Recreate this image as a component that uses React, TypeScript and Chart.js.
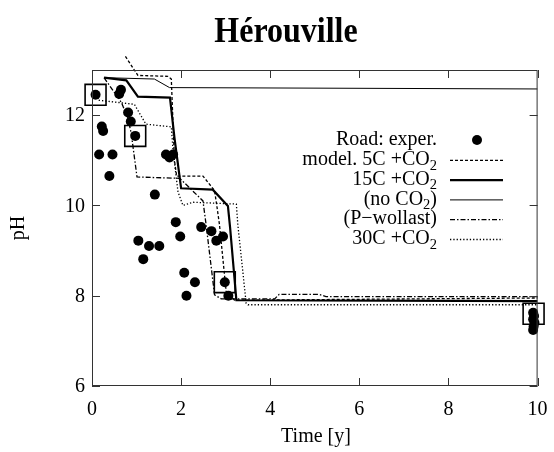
import React, { useEffect, useRef } from "react";
import { Chart, registerables } from "chart.js";

Chart.register(...registerables);

const TITLE = "Hérouville";
const X_LABEL = "Time [y]";
const Y_LABEL = "pH";
const X_TICKS = [0, 2, 4, 6, 8, 10];
const Y_TICKS = [6, 8, 10, 12];

// experimental points
const expTime = [0.08, 0.22, 0.25, 0.16, 0.39, 0.46, 0.61, 0.65, 0.81, 0.87, 0.97, 1.04, 1.15, 1.28, 1.41, 1.51, 1.66, 1.74, 1.82, 1.88, 1.98, 2.07, 2.12, 2.31, 2.45, 2.68, 2.79, 2.94, 2.98, 3.06, 9.9, 9.92, 9.9, 9.93, 9.91, 9.9];
const expPH = [12.45, 11.75, 11.65, 11.13, 10.65, 11.13, 12.47, 12.56, 12.06, 11.86, 11.54, 9.22, 8.81, 9.1, 10.24, 9.1, 11.13, 11.06, 11.13, 9.63, 9.31, 8.51, 8.0, 8.3, 9.52, 9.43, 9.22, 9.31, 8.3, 8.0, 7.62, 7.55, 7.48, 7.4, 7.32, 7.24];

// highlighted samples (open squares)
const boxTime = [0.08, 0.97, 2.98, 9.91];
const boxPH = [12.45, 11.54, 8.3, 7.6];

// model 5C +CO2 (dashed)
const m5Time = [0.75, 1.03, 1.7, 1.78, 1.85, 1.9, 2.49, 2.75, 2.8, 2.86, 3.01, 3.2, 10];
const m5PH = [13.3, 12.88, 12.86, 12.8, 11.0, 10.65, 10.65, 10.33, 10.0, 9.58, 8.1, 7.9, 7.95];

// 15C +CO2 (thick solid)
const m15Time = [0.27, 0.77, 1.03, 1.75, 1.85, 2.0, 2.71, 3.05, 3.1, 3.24, 10];
const m15PH = [12.83, 12.77, 12.41, 12.39, 11.5, 10.38, 10.35, 9.99, 9.5, 7.9, 7.88];

// no CO2 (thin solid)
const noCO2Time = [0.27, 1.4, 1.74, 10];
const noCO2PH = [12.83, 12.8, 12.61, 12.58];

// P-wollast (dash-dot)
const pwTime = [0.27, 0.66, 0.8, 0.88, 1.01, 1.97, 2.49, 2.56, 2.75, 2.9, 4.1, 4.2, 5.1, 5.25, 10];
const pwPH = [12.83, 12.28, 11.95, 11.6, 10.63, 10.6, 10.1, 9.58, 8.02, 7.93, 7.93, 8.03, 8.03, 7.98, 7.98];

// 30C +CO2 (dotted)
const m30Time = [0.15, 0.95, 1.21, 1.78, 1.82, 1.93, 2.04, 2.27, 3.24, 3.27, 3.46, 3.5, 10];
const m30PH = [12.33, 12.24, 11.8, 11.74, 11.2, 10.3, 10.0, 10.07, 10.03, 9.6, 7.83, 7.8, 7.8];

const SERIF = "'Liberation Serif', 'Times New Roman', serif";

const toXY = (xs: number[], ys: number[]) => xs.map((x, i) => ({ x, y: ys[i] }));

type Seg = { t: string; sub?: boolean };
const LEGEND_ITEMS: { segs: Seg[]; kind: string; width: number; dash: number[] }[] = [
  { segs: [{ t: "Road: exper." }], kind: "point", width: 0, dash: [] },
  { segs: [{ t: "model. 5C +CO" }, { t: "2", sub: true }], kind: "line", width: 1.3, dash: [3, 2] },
  { segs: [{ t: "15C +CO" }, { t: "2", sub: true }], kind: "line", width: 2.2, dash: [] },
  { segs: [{ t: "(no CO" }, { t: "2", sub: true }, { t: ")" }], kind: "line", width: 1, dash: [] },
  { segs: [{ t: "(P\u2212wollast)" }], kind: "line", width: 1.3, dash: [5, 2, 1.5, 2] },
  { segs: [{ t: "30C +CO" }, { t: "2", sub: true }], kind: "line", width: 1.3, dash: [1.3, 2] },
];

const overlay = {
  id: "overlay",
  afterDatasetsDraw(chart: any) {
    const ctx = chart.ctx;
    const { left, right, top, bottom } = chart.chartArea;
    const xs = chart.scales.x;
    const ys = chart.scales.y;
    ctx.save();
    // box
    ctx.strokeStyle = "#333";
    ctx.lineWidth = 1;
    ctx.setLineDash([]);
    ctx.strokeRect(left + 0.5, top + 0.5, right - left - 1, bottom - top - 1);
    // inner ticks
    ctx.beginPath();
    Y_TICKS.forEach((v) => {
      const y = Math.round(ys.getPixelForValue(v)) + 0.5;
      ctx.moveTo(left, y); ctx.lineTo(left + 8, y);
      ctx.moveTo(right, y); ctx.lineTo(right - 8, y);
    });
    X_TICKS.forEach((v) => {
      const x = Math.round(xs.getPixelForValue(v)) + 0.5;
      ctx.moveTo(x, bottom); ctx.lineTo(x, bottom - 8);
      ctx.moveTo(x, top); ctx.lineTo(x, top + 8);
    });
    ctx.stroke();

    ctx.fillStyle = "#000";
    // tick labels
    ctx.font = `20px ${SERIF}`;
    ctx.textBaseline = "middle";
    ctx.textAlign = "right";
    Y_TICKS.forEach((v) => {
      ctx.fillText(String(v), left - 7, ys.getPixelForValue(v) + 1);
    });
    ctx.textAlign = "center";
    X_TICKS.forEach((v) => {
      ctx.fillText(String(v), xs.getPixelForValue(v), bottom + 24);
    });

    // title
    ctx.font = `bold 32px ${SERIF}`;
    ctx.textAlign = "center";
    ctx.textBaseline = "alphabetic";
    ctx.save();
    ctx.translate(286, 42);
    ctx.scale(1, 1.12);
    ctx.fillText(TITLE, 0, 0);
    ctx.restore();

    // axis titles
    ctx.font = `20px ${SERIF}`;
    ctx.textBaseline = "middle";
    ctx.fillText(X_LABEL, 316, 437);
    ctx.save();
    ctx.translate(19, 228);
    ctx.rotate(-Math.PI / 2);
    ctx.fillText(Y_LABEL, 0, 0);
    ctx.restore();

    // legend
    const mainFont = `20px ${SERIF}`;
    const subFont = `14.5px ${SERIF}`;
    const textRight = 437;
    LEGEND_ITEMS.forEach((item, i) => {
      const cy = 140 + i * 19.8;
      let total = 0;
      item.segs.forEach((s) => {
        ctx.font = s.sub ? subFont : mainFont;
        total += ctx.measureText(s.t).width;
      });
      let x = textRight - total;
      ctx.textAlign = "left";
      ctx.textBaseline = "middle";
      item.segs.forEach((s) => {
        ctx.font = s.sub ? subFont : mainFont;
        ctx.fillText(s.t, x, s.sub ? cy + 6 : cy);
        x += ctx.measureText(s.t).width;
      });
      if (item.kind === "point") {
        ctx.beginPath();
        ctx.arc(477, cy, 5, 0, Math.PI * 2);
        ctx.fill();
      } else {
        ctx.beginPath();
        ctx.strokeStyle = "#000";
        ctx.lineWidth = item.width;
        ctx.setLineDash(item.dash);
        ctx.moveTo(450, cy + 0.5);
        ctx.lineTo(503, cy + 0.5);
        ctx.stroke();
        ctx.setLineDash([]);
      }
    });
    ctx.restore();
  },
};

export default function App() {
  const ref = useRef<HTMLCanvasElement | null>(null);
  useEffect(() => {
    document.body.style.margin = "0";
    const canvas = ref.current;
    if (!canvas) return;
    const lineDs = (label: string, xs: number[], ys: number[], width: number, dash: number[], clip: any = undefined) => ({
      label,
      data: toXY(xs, ys),
      showLine: true,
      borderColor: "#000",
      backgroundColor: "#000",
      borderWidth: width,
      borderDash: dash,
      pointRadius: 0,
      pointHoverRadius: 0,
      tension: 0,
      ...(clip !== undefined ? { clip } : {}),
    });
    const chart = new Chart(canvas, {
      type: "scatter",
      data: {
        datasets: [
          lineDs("model. 5C +CO2", m5Time, m5PH, 1.3, [3, 2], false),
          lineDs("15C +CO2", m15Time, m15PH, 2.2, []),
          lineDs("(no CO2)", noCO2Time, noCO2PH, 1, []),
          lineDs("(P-wollast)", pwTime, pwPH, 1.3, [5, 2, 1.5, 2]),
          lineDs("30C +CO2", m30Time, m30PH, 1.3, [1.3, 2]),
          {
            label: "Road: exper.",
            data: toXY(expTime, expPH),
            pointRadius: 5,
            pointBackgroundColor: "#000",
            pointBorderColor: "#000",
            pointBorderWidth: 0,
            showLine: false,
            clip: false,
          } as any,
          {
            label: "selected",
            data: toXY(boxTime, boxPH),
            pointStyle: "rect",
            pointRadius: 14.8,
            pointBackgroundColor: "rgba(0,0,0,0)",
            pointBorderColor: "#000",
            pointBorderWidth: 1.6,
            showLine: false,
            clip: false,
          } as any,
        ],
      },
      options: {
        responsive: false,
        animation: false,
        devicePixelRatio: 1,
        layout: { padding: { top: 70, right: 15, left: 0, bottom: 0 } },
        plugins: { legend: { display: false }, tooltip: { enabled: false }, title: { display: false } },
        events: [],
        scales: {
          x: {
            type: "linear",
            min: 0,
            max: 10,
            grid: { display: false, drawTicks: false },
            border: { display: false },
            ticks: { display: false },
            afterBuildTicks: (s: any) => { s.ticks = X_TICKS.map((v) => ({ value: v })); },
            afterFit: (s: any) => { s.height = 66; },
          },
          y: {
            type: "linear",
            min: 6,
            max: 13,
            grid: { display: false, drawTicks: false },
            border: { display: false },
            ticks: { display: false },
            afterBuildTicks: (s: any) => { s.ticks = Y_TICKS.map((v) => ({ value: v })); },
            afterFit: (s: any) => { s.width = 92; },
          },
        },
      } as any,
      plugins: [overlay],
    });
    return () => chart.destroy();
  }, []);
  return <canvas ref={ref} width={554} height={452} style={{ display: "block", width: 554, height: 452 }} />;
}
